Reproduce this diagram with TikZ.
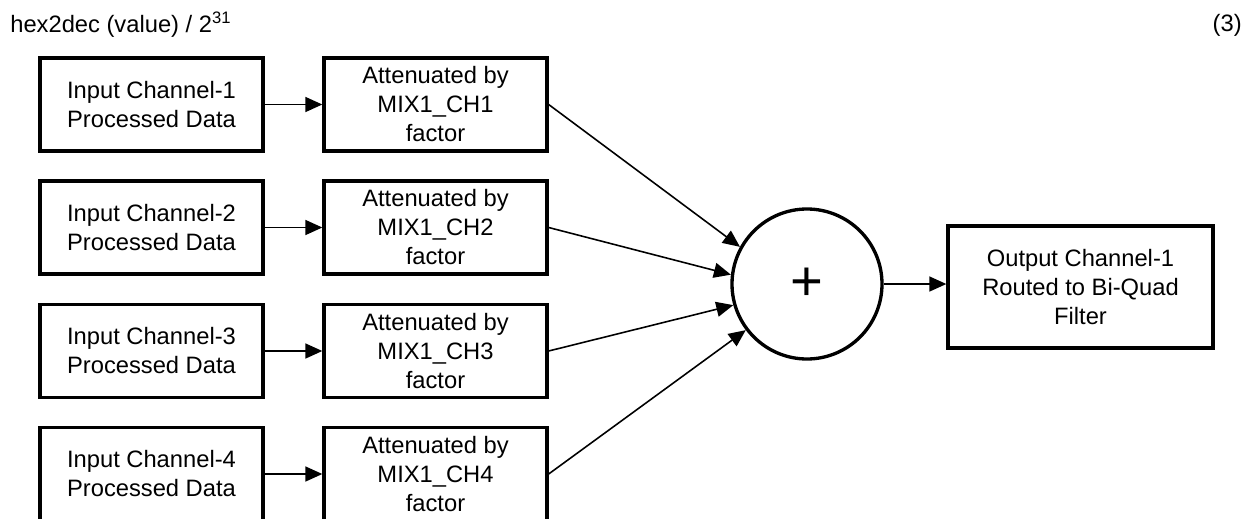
\documentclass[tikz,border=0pt]{standalone}
\usepackage{fontspec}
\setmainfont{Liberation Sans}
\usetikzlibrary{arrows.meta,positioning}

\begin{document}
\begin{tikzpicture}[
    >={Triangle[length=3.4mm, width=3mm]},
    sig/.style={->, line width=0.9pt},
    blk/.style={draw, line width=1.9pt, align=center, inner sep=1pt,
                minimum width=4.46cm, minimum height=1.86cm,
                font=\fontsize{13.5}{16.5}\selectfont},
    sum/.style={draw, line width=1.9pt, circle, inner sep=0pt, minimum size=3cm,
                font=\fontsize{32}{32}\selectfont},
    lbl/.style={inner sep=0pt, font=\fontsize{13.5}{16.5}\selectfont},
  ]
  \useasboundingbox (0,0) rectangle (25.02,-10.36);
  \node[lbl, anchor=west] (eqn) at (0.2,-0.5) {hex2dec (value) / 2\textsuperscript{31}};
  \node[lbl, anchor=east] (eqnum) at (24.84,-0.5) {(3)};

  \foreach \i/\y in {1/-2.09, 2/-4.55, 3/-7.02, 4/-9.48} {
    \node[blk] (in\i) at (3.03,\y) {Input Channel-\i\\Processed Data};
    \node[blk] (att\i) at (8.71,\y) {Attenuated by\\MIX1\_CH\i\\factor};
    \draw[sig] (in\i.east) -- (att\i.west);
  }

  \node[sum] (S) at (16.14,-5.68) {+};
  \node[blk, minimum width=5.3cm, minimum height=2.44cm] (out) at (21.61,-5.74)
       {Output Channel-1\\Routed to Bi-Quad\\Filter};

  \draw[sig] (att1.east) -- (S.151);
  \draw[sig] (att2.east) -- (S.173);
  \draw[sig] (att3.east) -- (S.196);
  \draw[sig] (att4.east) -- (S.217);
  \draw[sig] (S.east) -- (S.east -| out.west);
\end{tikzpicture}
\end{document}
